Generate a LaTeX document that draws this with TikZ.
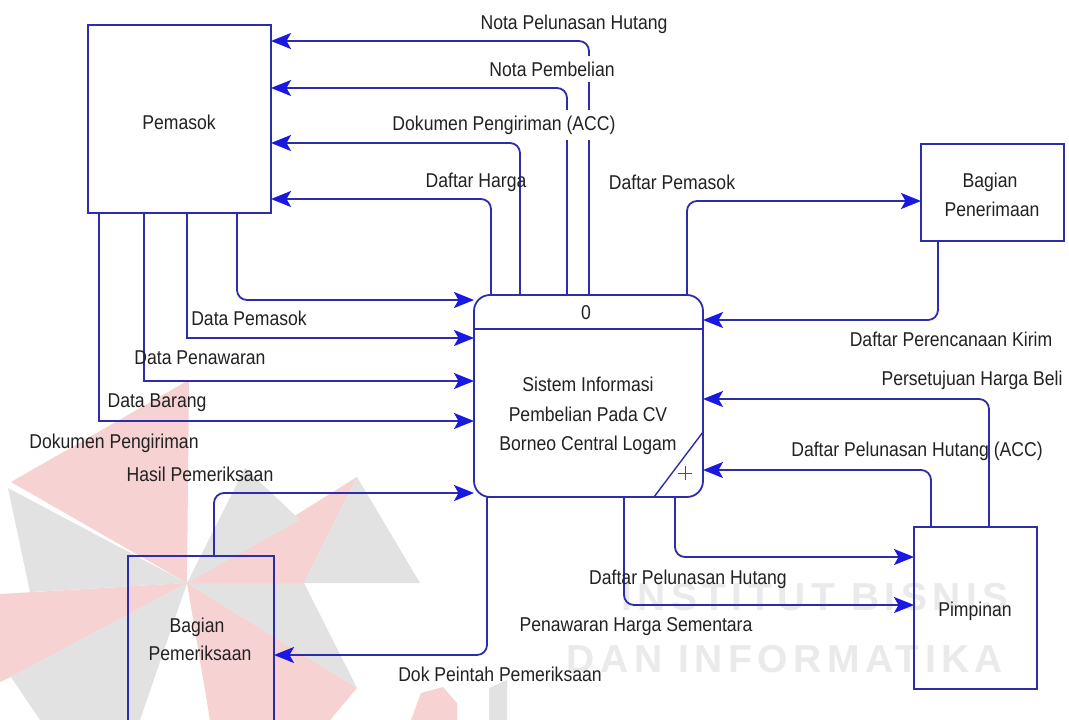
\documentclass[tikz,border=0pt]{standalone}
\usepackage{fontspec}
\setmainfont{Liberation Sans}[FakeStretch=0.88]
\newfontfamily\wmfont{Liberation Sans}[LetterSpace=14]
\usetikzlibrary{arrows.meta}

\definecolor{flowblue}{RGB}{45,45,170}
\definecolor{headblue}{RGB}{25,25,225}
\definecolor{txt}{RGB}{34,34,34}
\definecolor{wmred}{RGB}{246,210,210}
\definecolor{wmgrey}{RGB}{226,226,226}
\definecolor{wmtext}{RGB}{234,234,234}

\begin{document}
\begin{tikzpicture}[x=1pt,y=-1pt,
  entity/.style={draw=flowblue, line width=1.8pt, inner sep=0pt, outer sep=0pt},
  flow/.style={draw=flowblue, line width=1.8pt, rounded corners=10pt,
    -{Stealth[length=20pt,width=16pt,inset=4.5pt,color=headblue]}},
  sharpflow/.style={flow, sharp corners},
  lbl/.style={text=txt, font=\fontsize{20}{24}\selectfont, inner sep=0pt, anchor=base},
  masked/.style={lbl, fill=white, inner xsep=1pt, inner ysep=6pt},
  wmtxt/.style={text=wmtext, font=\wmfont\bfseries\fontsize{39}{44}\selectfont, inner sep=0pt, anchor=base}
]
\useasboundingbox (0,0) rectangle (1069,720);
\fill[white] (0,0) rectangle (1069,720);

% ---- faint background logo ----
\fill[wmred]  (189,380) -- (11,482) -- (187,583) -- cycle;
\fill[wmgrey] (8,488) -- (187,583) -- (30,592) -- cycle;
\fill[wmred]  (0,594) -- (187,583) -- (11,677) -- (0,682) -- cycle;
\fill[wmgrey] (11,677) -- (187,583) -- (140,720) -- (40,720) -- cycle;
\fill[wmred]  (187,583) -- (357,688) -- (330,720) -- (210,720) -- cycle;
\fill[wmgrey] (187,583) -- (304,583) -- (357,688) -- cycle;
\fill[wmred]  (187,583) -- (357,477) -- (304,583) -- cycle;
\fill[wmgrey] (187,583) -- (245,468) -- (300,520) -- cycle;
\fill[wmgrey] (357,477) -- (420,583) -- (304,583) -- cycle;
\fill[wmred]  (411,720) -- (421,693) -- (443,687) -- (457,703) -- (457,720) -- cycle;
\fill[wmgrey] (489,720) -- (489,688) -- (507,680) -- (507,720) -- cycle;
\node[wmtxt] (wm1) at (815,610) {INSTITUT BISNIS};
\node[wmtxt] (wm2) at (785,672) {DAN INFORMATIKA};

% ---- entities and process ----
\node[entity, minimum width=183pt, minimum height=188pt] (pemasok) at (179.5,119) {};
\node[entity, rounded corners=16pt, minimum width=229pt, minimum height=202pt] (proses) at (588.5,396) {};
\node[entity, minimum width=143pt, minimum height=97pt] (terima) at (992.5,192.5) {};
\node[entity, minimum width=123pt, minimum height=162pt] (pimpinan) at (975.5,608) {};
\node[entity, minimum width=146pt, minimum height=166pt] (periksa) at (201,639) {};

% process header line, corner cut and plus sign
\draw[flowblue, line width=1.8pt] (proses.west |- 0,329) -- (proses.east |- 0,329);
\draw[flowblue, line width=1.4pt] (proses.south -| 654,0) -- (proses.east |- 0,432);
\draw[txt!80, line width=0.9pt] (678,473) -- (692,473) (685,466) -- (685,480);

% ---- texts inside shapes ----
\node[lbl] (tpemasok) at (179,129) {Pemasok};
\node[lbl] (tnum) at (586,319) {0};
\node[lbl] (tp1) at (588,391) {Sistem Informasi};
\node[lbl] (tp2) at (588,421) {Pembelian Pada CV};
\node[lbl] (tp3) at (588,450) {Borneo Central Logam};
\node[lbl] (tt1) at (990,187) {Bagian};
\node[lbl] (tt2) at (992,216) {Penerimaan};
\node[lbl] (tk1) at (197,632) {Bagian};
\node[lbl] (tk2) at (200,660) {Pemeriksaan};
\node[lbl] (tpim) at (975,616) {Pimpinan};

% ---- data flows ----
\draw[flow] (proses.north -| 589,0) |- (pemasok.east |- 0,41);
\draw[flow] (proses.north -| 567,0) |- (pemasok.east |- 0,88);
\draw[flow] (proses.north -| 520,0) |- (pemasok.east |- 0,143);
\draw[flow] (proses.north -| 491,0) |- (pemasok.east |- 0,199);

\draw[flow]      (pemasok.south -| 237,0) |- (proses.west |- 0,300);
\draw[sharpflow] (pemasok.south -| 187,0) |- (proses.west |- 0,338);
\draw[sharpflow] (pemasok.south -| 144,0) |- (proses.west |- 0,381);
\draw[sharpflow] (pemasok.south -| 99,0)  |- (proses.west |- 0,421);

\draw[flow] (proses.north -| 687,0) |- (terima.west |- 0,201);
\draw[flow] (terima.south -| 938,0) |- (proses.east |- 0,320);
\draw[flow] (pimpinan.north -| 989,0) |- (proses.east |- 0,399);
\draw[flow] (pimpinan.north -| 931,0) |- (proses.east |- 0,470);
\draw[flow] (proses.south -| 675,0) |- (pimpinan.west |- 0,557);
\draw[flow] (proses.south -| 624,0) |- (pimpinan.west |- 0,605);
\draw[flow] (periksa.north -| 214,0) |- (proses.west |- 0,493);
\draw[flow] (proses.south -| 487,0) |- (periksa.east |- 0,655);

% ---- flow labels ----
\node[lbl]    (l1)  at (574,30)  {Nota Pelunasan Hutang};
\node[masked] (l2)  at (552,76)  {Nota Pembelian};
\node[masked] (l3)  at (504,130) {Dokumen Pengiriman (ACC)};
\node[lbl]    (l4)  at (476,187) {Daftar Harga};
\node[lbl]    (l5)  at (672,189) {Daftar Pemasok};
\node[lbl]    (l6)  at (249,325) {Data Pemasok};
\node[lbl]    (l7)  at (200,364) {Data Penawaran};
\node[lbl]    (l8)  at (157,407) {Data Barang};
\node[lbl]    (l9)  at (114,448) {Dokumen Pengiriman};
\node[lbl]    (l10) at (200,481) {Hasil Pemeriksaan};
\node[lbl]    (l11) at (500,681) {Dok Peintah Pemeriksaan};
\node[lbl]    (l12) at (951,346) {Daftar Perencanaan Kirim};
\node[lbl]    (l13) at (972,385) {Persetujuan Harga Beli};
\node[lbl]    (l14) at (917,456) {Daftar Pelunasan Hutang (ACC)};
\node[lbl]    (l15) at (688,584) {Daftar Pelunasan Hutang};
\node[lbl]    (l16) at (636,631) {Penawaran Harga Sementara};
\end{tikzpicture}
\end{document}
